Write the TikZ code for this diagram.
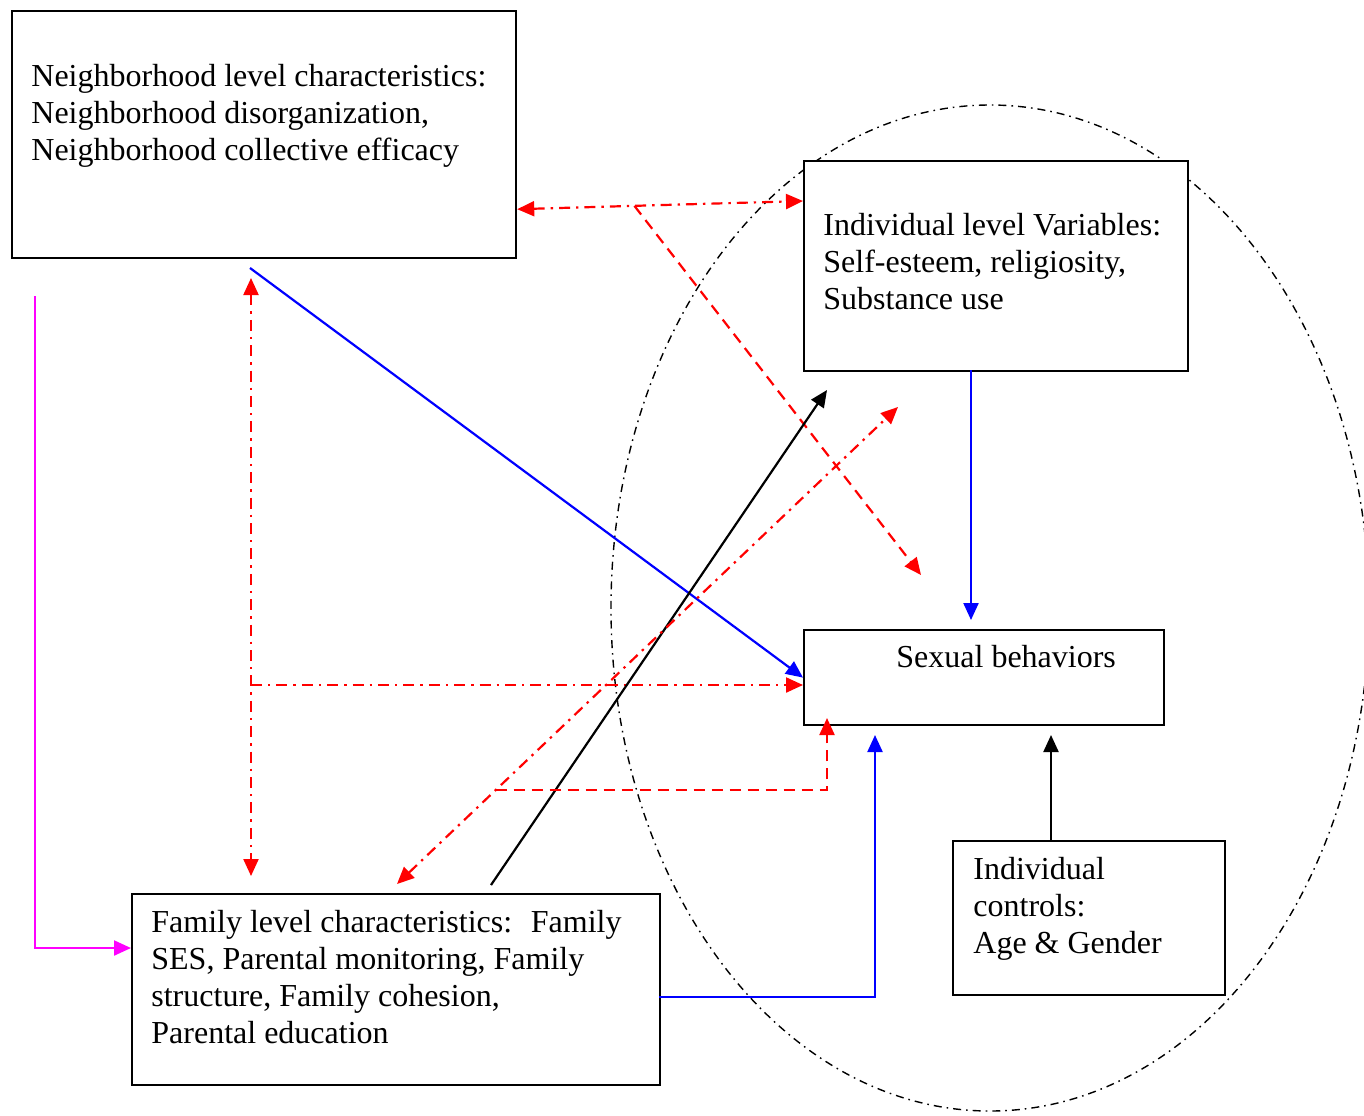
\documentclass[tikz,border=0pt]{standalone}
\usepackage{fontspec}
\setmainfont{Liberation Serif}
\usetikzlibrary{arrows.meta,calc}
\definecolor{magpure}{RGB}{255,0,255}
\begin{document}
\begin{tikzpicture}[x=0.5pt,y=-0.5pt,
  box/.style={draw=black,line width=1.1pt,fill=white,inner sep=0pt,anchor=north west},
  txt/.style={inner sep=0pt,anchor=north west,align=left,font=\fontsize{16}{18.5}\selectfont},
  tipend/.style={-{Triangle[length=8.5pt,width=7.5pt]}},
  tipboth/.style={{Triangle[length=8.5pt,width=7.5pt]}-{Triangle[length=8.5pt,width=7.5pt]}},
  reddot/.style={red,line width=1.1pt,dash pattern=on 5.5pt off 3pt on 1.2pt off 3pt},
  reddash/.style={red,line width=1.1pt,dash pattern=on 5.5pt off 3.5pt},
  blueline/.style={blue,line width=1.1pt},
  blackline/.style={black,line width=1.1pt},
  magline/.style={magpure,line width=1.1pt},
  oval/.style={black,line width=0.7pt,dash pattern=on 4pt off 2.5pt on 0.8pt off 2.5pt}]
\useasboundingbox (0,0) rectangle (1364,1115);
\fill[white] (0,0) rectangle (1364,1115);

% ellipse
\draw[oval] (990,608) ellipse [x radius=379, y radius=503];

% boxes
\node[box,minimum width=252pt,minimum height=123.5pt] (nb) at (11,10) {};
\node[box,minimum width=192pt,minimum height=105pt] (ind) at (803,160) {};
\node[box,minimum width=180pt,minimum height=47.5pt] (sb) at (803,629) {};
\node[box,minimum width=136pt,minimum height=77pt] (ic) at (952,840) {};
\node[box,minimum width=264pt,minimum height=95.5pt] (fam) at (131,893) {};

% texts
\node[txt] (nbt) at (31,64) {Neighborhood level characteristics:\\Neighborhood disorganization,\\Neighborhood collective efficacy};
\node[txt] (indt) at (823,213) {Individual level Variables:\\Self-esteem, religiosity,\\Substance use};
\node[txt] (sbt) at (896,645) {Sexual behaviors};
\node[txt] (ict) at (973,857) {Individual\\controls:\\Age \& Gender};
\node[txt] (famt) at (151,910) {Family level characteristics:~ Family\\SES, Parental monitoring, Family\\structure, Family cohesion,\\Parental education};

% coordinates
\coordinate (e2) at (921,575);
\coordinate (s3) at (250,268);
\coordinate (v1) at (251,278);
\coordinate (v2) at (251,876);
\coordinate (h1) at (251,685);
\coordinate (s6) at (491,885);
\coordinate (e6) at (827,390);
\coordinate (d1) at (397,884);
\coordinate (d2) at (898,407);
\coordinate (e8) at (827,718);
\coordinate (s9) at (971,370);
\coordinate (e9) at (971,620);
\coordinate (s10) at (659,997);
\coordinate (e10) at (875,735);
\coordinate (s11) at (1051,840);
\coordinate (e11) at (1051,735);
\coordinate (s12) at (35,296);
\coordinate (e12) at (131,948);

% connectors
\draw[reddot,tipboth] ($(nb.south east)+(0,-50)$) -- coordinate[pos=0.41] (m1) ($(ind.north west)+(0,41)$);
\draw[reddash,tipend] (m1) -- (e2);
\draw[blueline,tipend] (s3) -- (sb.west);
\draw[reddot,tipboth] (v1) -- (v2);
\draw[reddot,tipend] (h1) -- (h1 -| sb.west);
\draw[blackline,tipend] (s6) -- (e6);
\draw[reddot,tipboth] (d1) -- coordinate[pos=0.197] (m7) (d2);
\draw[reddash,tipend] (m7) -| (e8);
\draw[blueline,tipend] (s9) -- (e9);
\draw[blueline,tipend] (s10) -| (e10);
\draw[blackline,tipend] (s11) -- (e11);
\draw[magline,tipend] (s12) |- (e12);
\end{tikzpicture}
\end{document}
